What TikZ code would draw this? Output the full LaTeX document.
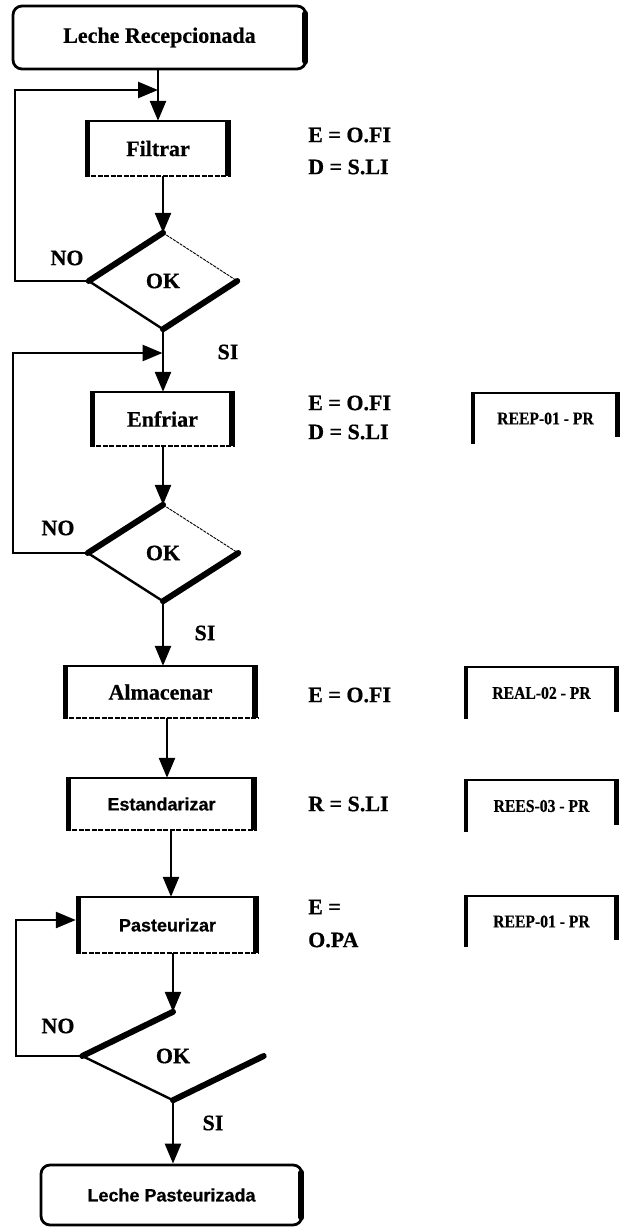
\documentclass[tikz,border=0pt]{standalone}
\usepackage{fontspec}
\setmainfont{Liberation Serif}[BoldFeatures={FakeBold=0.6}]
\newfontfamily\lblsans{Liberation Sans}[BoldFeatures={FakeBold=0.6}]
\newfontfamily\refserif{Liberation Serif}[FakeStretch=0.87, BoldFeatures={FakeBold=0.6}]
\usetikzlibrary{arrows.meta,shapes.geometric}

% frame of a process box: thin top, grainy bottom, heavy left and right sides
\newcommand\procframe[1]{%
  \draw[line width=2pt] (#1.north west) -- (#1.north east);
  \draw[line width=2pt, dash pattern=on 5pt off 1.5pt] (#1.south west) -- (#1.south east);
  \draw[line width=5pt] ([xshift=2.5pt]#1.north west) -- ([xshift=2.5pt]#1.south west);
  \draw[line width=6pt] ([xshift=-3pt,yshift=1pt]#1.north east) -- ([xshift=-3pt]#1.south east);
}
% shadowed right side of the start / end boxes
\newcommand\termframe[1]{%
  \draw[line width=6pt, line cap=round] ([xshift=-2pt,yshift=-9pt]#1.north east) -- ([xshift=-2pt,yshift=9pt]#1.south east);
}
% decision diamond: heavy upper-left and lower-right edges
\newcommand\decframe[1]{%
  \draw[line width=6pt, line cap=round] (#1.west) -- (#1.north);
  \draw[line width=2.4pt] (#1.west) -- (#1.south);
  \draw[line width=6pt, line cap=round] (#1.south) -- (#1.east);
}
% record tag: heavy left bar, thin top, short heavy right stub, open bottom
\newcommand\refframe[1]{%
  \draw[line width=2pt] (#1.north west) -- (#1.north east);
  \draw[line width=4pt] ([xshift=2pt]#1.north west) -- ([xshift=2pt]#1.south west);
  \draw[line width=5pt] ([xshift=-2.5pt]#1.north east) -- ([xshift=-2.5pt,yshift=7pt]#1.south east);
}

\begin{document}
\begin{tikzpicture}[x=1pt,y=-1pt,
  every node/.style={inner sep=0pt},
  serifbf/.style={font=\fontsize{22pt}{26pt}\selectfont\bfseries},
  sansbf/.style={font=\lblsans\fontsize{18pt}{21pt}\selectfont\bfseries},
  refbf/.style={font=\refserif\fontsize{18pt}{21pt}\selectfont\bfseries},
  endbox/.style={draw, line width=2.8pt, rounded corners=9pt},
  decision/.style={diamond, serifbf},
  flow/.style={line width=2.6pt, -{Triangle[length=20pt,width=16pt]}},
  faintedge/.style={line width=0.9pt, dash pattern=on 3pt off 1pt},
  sidelabel/.style={serifbf, anchor=west},
  reftag/.style={refbf, minimum height=51pt}
]
\useasboundingbox (0,0) rectangle (629,1227);

% ---- main column ----
\node[endbox, serifbf, minimum width=293pt, minimum height=63pt] (lr) at (159.5,37.5) {Leche Recepcionada};
\node[serifbf, minimum width=146pt, minimum height=55pt] (fil) at (158,148.5) {Filtrar};
\node[decision, minimum width=148pt, minimum height=96pt] (d1) at (163,281) {OK};
\node[serifbf, minimum width=145pt, minimum height=54pt] (enf) at (162.5,419) {Enfriar};
\node[decision, minimum width=150pt, minimum height=96pt] (d2) at (163,553) {OK};
\node[serifbf, minimum width=195pt, minimum height=52pt] (alm) at (160.5,692) {Almacenar};
\node[sansbf, minimum width=191pt, minimum height=52pt] (est) at (161.5,804) {Estandarizar};
\node[sansbf, minimum width=183pt, minimum height=56pt] (pas) at (167.5,925) {Pasteurizar};
\node[decision, minimum width=181pt, minimum height=88pt] (d3) at (173,1056) {OK};
\node[endbox, sansbf, minimum width=261pt, minimum height=60pt] (lp) at (171.5,1195) {Leche Pasteurizada};

\termframe{lr}
\termframe{lp}
\procframe{fil}
\procframe{enf}
\procframe{alm}
\procframe{est}
\procframe{pas}
\decframe{d1}
\decframe{d2}
\decframe{d3}
\draw[faintedge] (d1.north) -- (d1.east);
\draw[faintedge] (d2.north) -- (d2.east);

% ---- forward flow ----
\draw[flow] ([xshift=-1.5pt]lr.south) -- ([xshift=-1.5pt]lr.south |- fil.north);
\draw[flow] (fil.south -| d1.north) -- (d1.north);
\draw[flow] (d1.south) -- (d1.south |- enf.north);
\draw[flow] (enf.south -| d2.north) -- (d2.north);
\draw[flow] (d2.south) -- (d2.south |- alm.north);
\draw[flow] ([xshift=6.5pt]alm.south) -- ([xshift=6.5pt]alm.south |- est.north);
\draw[flow] ([xshift=9.5pt]est.south) -- ([xshift=9.5pt]est.south |- pas.north);
\draw[flow] (pas.south -| d3.north) -- (d3.north);
\draw[flow] (d3.south) -- (d3.south |- lp.north);

% ---- rework loops ----
\coordinate (loopA) at (15,90);
\coordinate (loopB) at (13,353);
\coordinate (loopC) at (16,920);
\draw[flow] (d1.west) -| (loopA) -- (loopA -| fil.north);
\draw[flow] (d2.west) -| (loopB) -- (loopB -| enf.north);
\draw[flow] (d3.west) -| (loopC) -- (loopC -| pas.west);

% ---- branch labels ----
\node[serifbf] (no1) at (67,258) {NO};
\node[serifbf] (si1) at (228,352) {SI};
\node[serifbf] (no2) at (58,528) {NO};
\node[serifbf] (si2) at (205,633) {SI};
\node[serifbf] (no3) at (58,1026) {NO};
\node[serifbf] (si3) at (213,1123) {SI};

% ---- responsibility notes ----
\node[sidelabel] (filE) at (308,135) {E = O.FI};
\node[sidelabel] (filD) at (308,167) {D = S.LI};
\node[sidelabel] (enfE) at (308,403) {E = O.FI};
\node[sidelabel] (enfD) at (308,432) {D = S.LI};
\node[sidelabel] (almE) at (308,695) {E = O.FI};
\node[sidelabel] (estR) at (308,804) {R = S.LI};
\node[sidelabel] (pasE) at (308,907) {E =};
\node[sidelabel] (pasO) at (308,940) {O.PA};

% ---- record tags ----
\node[reftag, minimum width=149pt] (r1) at (545.5,418.5) {REEP-01 - PR};
\node[reftag, minimum width=155pt] (r2) at (541.5,693) {REAL-02 - PR};
\node[reftag, minimum width=155pt] (r3) at (541.5,806) {REES-03 - PR};
\node[reftag, minimum width=155pt] (r4) at (541.5,921.5) {REEP-01 - PR};
\refframe{r1}
\refframe{r2}
\refframe{r3}
\refframe{r4}
\end{tikzpicture}
\end{document}
